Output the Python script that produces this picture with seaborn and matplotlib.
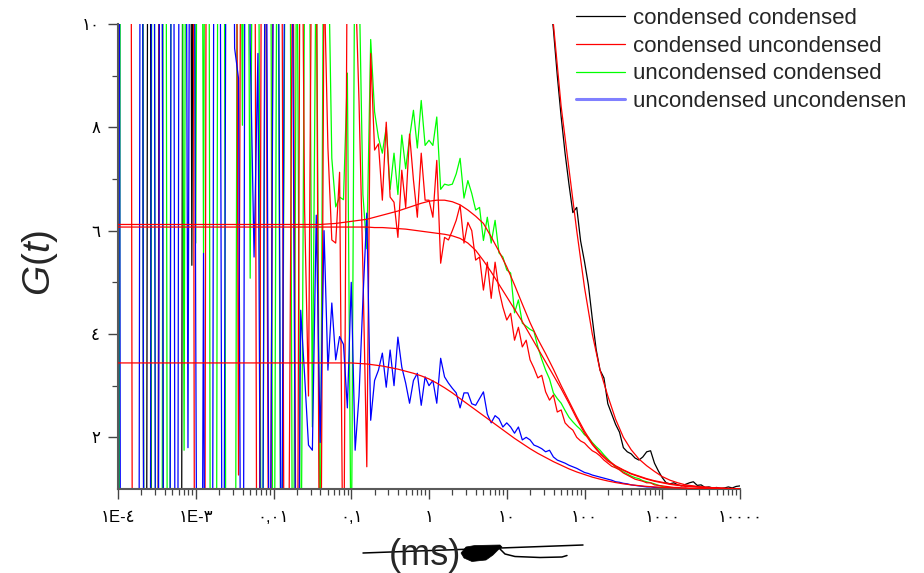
import numpy as np
import pandas as pd
import matplotlib
matplotlib.use("Agg")
import matplotlib.pyplot as plt
from matplotlib.lines import Line2D
from matplotlib.patches import Polygon
from matplotlib.ticker import FixedLocator, LogLocator, NullFormatter
import seaborn as sns

# ---------------------------------------------------------------- data
# lag time grid of the correlator (ms): 20 channels per decade, fits on 10 per decade
lag_ms = np.logspace(-4, 4, 161)
fit_lag_ms = np.logspace(-4, 4, 81)

series_names = ["condensed condensed", "condensed uncondensed",
                "uncondensed condensed", "uncondensed uncondensen"]

g_condensed_condensed = [
    30, 34, 28, 36, 31, 33, 29, -20, 32, -25, -18, 35, -22, -19, -24, -21, -18, 30, 34, 5.33,
    30, 31, 27, 35, 29, 33, 26, 30, 34, 28, 32, 27, 31, 29, 33, 26, 30, 28, 32, 27,
    30, 29, 31, 27, 30, 28, 29, 31, 27, 29, 28, 30, 27, 29, 28, 27, 29, 26, 28, 27,
    26, 27, 25, 27, 26, 25, 26, 24, 26, 25, 24, 25, 24, 23, 24, 23, 24, 22, 23, 22,
    22, 21, 22, 21, 20, 21, 20, 19, 20, 19, 18.5, 19, 18, 17.5, 17.8, 17, 16.5, 16.8, 16, 15.5,
    15.2, 14.8, 14.3, 14.0, 13.5, 13.1, 12.7, 12.3, 11.9, 11.5,
    11.0, 10.6, 9.9, 9.0, 8.2, 7.5, 6.9, 6.35, 6.45, 5.8, 5.4, 4.95, 4.3, 3.7, 3.3, 3.15,
    2.65, 2.45, 2.25, 2.1, 1.8, 1.72, 1.68, 1.6, 1.56, 1.62, 1.72, 1.74, 1.5, 1.35, 1.22,
    1.12, 1.1, 1.12, 1.08, 1.06, 1.09, 1.12, 1.14, 1.07, 1.08, 1.03, 1.04, 1.02, 1.03, 1.01,
    1.02, 1.04, 1.02, 1.05, 1.06,
]

g_condensed_uncondensed = [
    26, 30, 24, 28, -14, -18, -20, -15, -17, -21, -16, 29, 31, 27, 25, 30, 28, 32, 26, 29,
    -16, -19, -14, 24, 28, 30, 27, 22, 26, 25, 24, 1.27, 20, 22, 25, 19, -10, 15, 12.5, -6,
    14, 18, 16, -8, 0.5, 13, -5, 16, 6.4, 2.8, 14, 12, -4, 11, 7.6, 5.82, 5.76, 7.13, -2, 12,
    13, 11, 8.5, 5.24, 1.43,
    9.43, 7.56, 7.68, 6.59, 8.1, 6.65, 6.55, 5.87, 7.17, 6.45, 7.87, 6.98, 6.26, 7.5, 6.59,
    6.59, 6.26, 7.36, 5.37, 5.87, 5.82, 6.0, 6.2, 6.49, 5.76, 6.16, 6.0, 5.43, 5.49, 4.85,
    5.39, 4.69, 5.39, 4.85, 4.52, 4.27, 4.40, 3.88, 4.13, 3.75, 3.88, 3.50, 3.34, 3.15, 3.2,
    2.88, 2.72, 2.82, 2.49, 2.53, 2.28, 2.2, 2.14, 2.0, 1.93, 1.89, 1.81, 1.74, 1.70, 1.64,
    1.56, 1.50, 1.44, 1.41, 1.37, 1.31, 1.27, 1.23, 1.19, 1.17, 1.15, 1.12, 1.12, 1.08, 1.07,
    1.06, 1.05, 1.04, 1.03, 1.03, 1.02, 1.02, 1.01, 1.01, 1.0, 1.01, 1.0, 1.0, 1.0, 0.99,
    1.0, 1.0, 1.0, 1.01, 1.0, 1.0,
]

g_uncondensed_condensed = [
    -15, 30, 28, 33, 27, 31, 29, -18, -20, 26, -14, -17, 30, -16, 28, 33, 27, 1.75, 30, 25,
    5.76, 28, 5.56, 30, -12, -15, 26, 24, -10, -14, -8, 22, 8.04, 20, 5.08, 18, 16, -5, 14, 20,
    -6, 15, -3, 12, 18, -4, 13, -2, 11, 15, 2.2, 12, -1, 14, 12, 7.4, 6.46, 6.65, 6.6, 9.05,
    -1, 13, 11, 6.7, 5.65,
    9.7, 8.3, 7.8, 7.5, 8.0, 6.8, 7.5, 6.7, 7.85, 7.2, 7.8, 8.33, 7.6, 8.52, 7.65,
    7.75, 7.65, 8.2, 6.8, 6.9, 6.88, 6.9, 7.1, 7.4, 6.63, 6.97, 6.72, 6.40, 6.45, 5.81,
    6.26, 5.76, 6.2, 5.57, 5.49, 5.24, 5.18, 4.41, 4.66, 4.21, 4.15, 4.09, 4.05, 3.75, 3.51,
    3.3, 3.13, 2.86, 2.75, 2.66, 2.52, 2.39, 2.3, 2.22, 2.15, 2.05, 2.0, 1.9, 1.82, 1.75,
    1.66, 1.58, 1.5, 1.42, 1.38, 1.33, 1.29, 1.25, 1.22, 1.2, 1.16, 1.14, 1.12, 1.1, 1.07,
    1.05, 1.03, 1.03, 1.02, 1.01, 1.0, 1.01, 1.0, 0.99, 1.0, 1.01, 1.0, 1.0, 0.99, 1.0,
    1.0, 1.01, 1.0, 1.0, 0.99, 1.0,
]

g_uncondensed_uncondensed = [
    30, -20, -18, -22, -19, -20, 27, -18, -16, 30, -20, 28, -15, -20, 29, -17, 25, 26, 1.8, 28,
    4.04, -15, 5.56, -18, -14, 26, 20, -8, 18, 22, 9.53, 8.95, -10, 24, 9.63, 5.49, 9.43, -6, 16, -4,
    12, 18, -3, 14, 22, 9.4, -5, 4.46, 3.2, 1.85, 1.75, 6.3, 1.9, 6.0, 3.3, 4.6, 3.5, 3.95, 3.8, 2.57,
    5.0, 1.75, 2.8, 4.66, 6.34,
    2.33, 3.1, 3.3, 3.63, 2.97, 3.69, 3.0, 3.94, 3.36, 3.05, 2.66, 3.1, 3.24, 2.62, 3.17,
    3.0, 3.1, 2.66, 3.53, 3.17, 3.05, 2.95, 2.86, 2.57, 2.86, 2.86, 2.65, 2.62, 2.75, 2.88,
    2.45, 2.28, 2.42, 2.36, 2.2, 2.28, 2.2, 2.08, 2.2, 1.95, 2.0, 1.95, 1.85, 1.82, 1.78,
    1.72, 1.75, 1.62, 1.56, 1.53, 1.5, 1.46, 1.43, 1.4, 1.36, 1.32, 1.3, 1.27, 1.25, 1.23,
    1.21, 1.19, 1.17, 1.14, 1.13, 1.11, 1.1, 1.08, 1.07, 1.06, 1.05, 1.04, 1.04, 1.03, 1.03,
    1.02, 1.02, 1.01, 1.01, 1.01, 1.0, 1.01, 1.0, 1.0, 1.0, 0.99, 1.0, 1.0, 1.0, 1.0,
    1.01, 1.0, 1.0, 1.0, 1.0, 1.0,
]

# model fits (drawn in red)
fit_condensed_condensed = [
    28, 28, 28, 28, 28, 28, 28, 28, 28, 28, 28, 28, 28, 28, 28, 28, 28, 28, 28, 28,
    28, 28, 28, 28, 28, 28, 28, 28, 28, 28, 28, 28, 28, 28, 28, 28, 28, 28, 28, 28, 28,
    27.5, 27, 26, 25, 24, 22.5, 21, 19.5, 18, 16.5, 15, 13.8, 12.6, 11.8, 11.0,
    10.0, 8.4, 7.2, 6.0, 4.9, 4.0, 3.3, 2.8, 2.35, 2.0, 1.76, 1.58, 1.45, 1.34, 1.24,
    1.17, 1.12, 1.08, 1.06, 1.04, 1.03, 1.02, 1.01, 1.005, 1.0,
]

fit_condensed_uncondensed = [
    6.07, 6.07, 6.07, 6.07, 6.07, 6.07, 6.07, 6.07, 6.07, 6.07, 6.07, 6.07, 6.07, 6.07, 6.07,
    6.07, 6.07, 6.07, 6.07, 6.07, 6.07, 6.07, 6.07, 6.07, 6.07, 6.07, 6.07, 6.07, 6.07, 6.07,
    6.07, 6.07, 6.07,
    6.06, 6.06, 6.05, 6.04, 6.03, 6.01, 5.99, 5.97, 5.95, 5.93, 5.90, 5.85, 5.76, 5.62, 5.42,
    5.20, 4.96, 4.72, 4.48, 4.24, 3.98, 3.72, 3.46, 3.20, 2.94, 2.66, 2.36, 2.08, 1.86, 1.68,
    1.54, 1.44, 1.36, 1.29, 1.24, 1.19, 1.15, 1.12, 1.09, 1.07, 1.05, 1.04, 1.03, 1.02,
    1.015, 1.01, 1.005, 1.0,
]

fit_uncondensed_condensed = [
    6.12, 6.12, 6.12, 6.12, 6.12, 6.12, 6.12, 6.12, 6.12, 6.12, 6.12, 6.12, 6.12, 6.12,
    6.12, 6.12, 6.12, 6.12, 6.12, 6.12, 6.12, 6.12, 6.12, 6.12, 6.12, 6.12, 6.12,
    6.13, 6.14, 6.16, 6.18, 6.20, 6.22, 6.26, 6.30, 6.34, 6.38, 6.43, 6.48, 6.53, 6.57,
    6.59, 6.59, 6.56, 6.50, 6.40, 6.28, 6.14, 5.88, 5.60, 5.30, 4.95, 4.58, 4.22, 3.90,
    3.62, 3.32, 3.00, 2.70, 2.40, 2.12, 1.88, 1.70, 1.56, 1.45, 1.37, 1.30, 1.25, 1.20,
    1.16, 1.13, 1.10, 1.08, 1.06, 1.05, 1.04, 1.03, 1.02, 1.015, 1.01, 1.0,
]

fit_uncondensed_uncondensed = [
    3.44, 3.44, 3.44, 3.44, 3.44, 3.44, 3.44, 3.44, 3.44, 3.44, 3.44, 3.44, 3.44, 3.44,
    3.44, 3.44, 3.44, 3.44, 3.44, 3.44, 3.44, 3.44, 3.44, 3.44, 3.44, 3.44, 3.44, 3.44,
    3.44, 3.44, 3.44,
    3.43, 3.42, 3.40, 3.38, 3.35, 3.32, 3.28, 3.24, 3.19, 3.13, 3.05, 2.96, 2.86, 2.75,
    2.64, 2.53, 2.42, 2.31, 2.20, 2.09, 1.98, 1.88, 1.78, 1.69, 1.61, 1.53, 1.46, 1.39,
    1.33, 1.28, 1.23, 1.19, 1.155, 1.125, 1.10, 1.08, 1.065, 1.05, 1.04, 1.03, 1.025,
    1.02, 1.015, 1.01, 1.01, 1.005, 1.005, 1.0, 1.0, 1.0,
]

x_ticks = [1e-4, 1e-3, 1e-2, 1e-1, 1, 10, 100, 1000, 10000]
x_tick_labels = ["١E-٤", "١E-٣", "٠,٠١", "٠,١", "١", "١٠", "١٠٠", "١٠٠٠", "١٠٠٠٠"]
y_ticks = [2, 4, 6, 8, 10]
y_tick_labels = ["٢", "٤", "٦", "٨", "١٠"]

line_colors = {
    "condensed condensed": "#000000",
    "condensed uncondensed": "#ff0000",
    "uncondensed condensed": "#00ff00",
    "uncondensed uncondensen": "#0000ff",
}

# ---------------------------------------------------------------- frames
curves = pd.DataFrame({
    "lag": np.tile(lag_ms, 4),
    "G": np.concatenate([g_condensed_condensed, g_condensed_uncondensed,
                         g_uncondensed_condensed, g_uncondensed_uncondensed]),
    "series": np.repeat(series_names, len(lag_ms)),
})
fits = pd.DataFrame({
    "lag": np.tile(fit_lag_ms, 4),
    "G": np.concatenate([fit_condensed_condensed, fit_condensed_uncondensed,
                         fit_uncondensed_condensed, fit_uncondensed_uncondensed]),
    "curve": np.repeat(series_names, len(fit_lag_ms)),
})

# ---------------------------------------------------------------- style
sns.set_style("ticks")
plt.rcParams["font.family"] = ["Liberation Sans", "DejaVu Sans"]
plt.rcParams["mathtext.fontset"] = "custom"
plt.rcParams["mathtext.it"] = "Liberation Sans:italic"
plt.rcParams["mathtext.rm"] = "Liberation Sans"

W, H = 924, 573
fig = plt.figure(figsize=(W / 100, H / 100), dpi=100)
ax = fig.add_axes([118 / W, 1 - 489 / H, (740 - 118) / W, (489 - 24) / H])
ax.set_xscale("log")

draw_order = ["condensed condensed", "uncondensed condensed",
              "condensed uncondensed", "uncondensed uncondensen"]
sns.lineplot(data=curves, x="lag", y="G", hue="series", hue_order=draw_order,
             palette=line_colors, estimator=None, sort=False, linewidth=0.9,
             legend=False, ax=ax)
sns.lineplot(data=fits, x="lag", y="G", units="curve", estimator=None, sort=False,
             color="#ff0000", linewidth=0.9, legend=False, ax=ax, zorder=4)

ax.set_xlim(1e-4, 1e4)
ax.set_ylim(1, 10)
ax.set_xlabel("")
ax.set_ylabel("")

for side in ("top", "right"):
    ax.spines[side].set_visible(False)
for side in ("left", "bottom"):
    ax.spines[side].set_color("#5a5a5a")
    ax.spines[side].set_linewidth(1.5)

ax.xaxis.set_major_locator(FixedLocator(x_ticks))
ax.set_xticklabels(x_tick_labels)
ax.xaxis.set_minor_locator(LogLocator(base=10, subs=np.arange(2, 10), numticks=20))
ax.xaxis.set_minor_formatter(NullFormatter())
ax.yaxis.set_major_locator(FixedLocator(y_ticks))
ax.set_yticklabels(y_tick_labels)
ax.yaxis.set_minor_locator(FixedLocator([3, 5, 7, 9]))

ax.tick_params(which="major", length=7, width=1.0, color="#444444", direction="out",
               labelsize=12, labelcolor="black")
ax.tick_params(which="minor", length=4, width=0.9, color="#444444", direction="out")
ax.tick_params(axis="x", which="major", pad=8)
ax.tick_params(axis="y", which="major", pad=6)

# axis titles
fig.text(40 / W, 1 - 263 / H, r"$G(t)$", rotation=90, ha="center", va="center",
         fontsize=28)
fig.text(425 / W, 1 - 565 / H, "(ms)", ha="center", va="baseline", fontsize=26)


def px(x, y):
    return (x / W, 1 - y / H)


# stroke that runs through the unit label
fig.add_artist(Line2D([363 / W, 583 / W], [1 - 553 / H, 1 - 545 / H],
                      color="black", lw=1.1, transform=fig.transFigure))
blade = [px(461, 553), px(466, 547), px(475, 545.5), px(500, 545), px(502, 547),
         px(498, 550), px(493, 555), px(486, 560), px(472, 561.5), px(464, 558)]
fig.add_artist(Polygon(blade, closed=True, facecolor="black", edgecolor="black",
                       lw=0.5, transform=fig.transFigure))
hook_x = [500, 505, 515, 540, 562, 567]
hook_y = [549, 554, 556.5, 557.5, 557, 555.5]
fig.add_artist(Line2D([v / W for v in hook_x], [1 - v / H for v in hook_y],
                      color="black", lw=1.1, transform=fig.transFigure))

# legend
handles = [Line2D([], [], color="#000000", lw=0.9),
           Line2D([], [], color="#ff0000", lw=0.9),
           Line2D([], [], color="#00ff00", lw=0.9),
           Line2D([], [], color="#8080ff", lw=2.2)]
ax.legend(handles, series_names, loc="upper left",
          bbox_to_anchor=(576 / W, 1 - 8 / H), bbox_transform=fig.transFigure,
          frameon=False, fontsize=16, handlelength=2.2, handletextpad=0.35,
          labelspacing=0.3, borderpad=0, borderaxespad=0)

fig.savefig("out.png", dpi=100)
